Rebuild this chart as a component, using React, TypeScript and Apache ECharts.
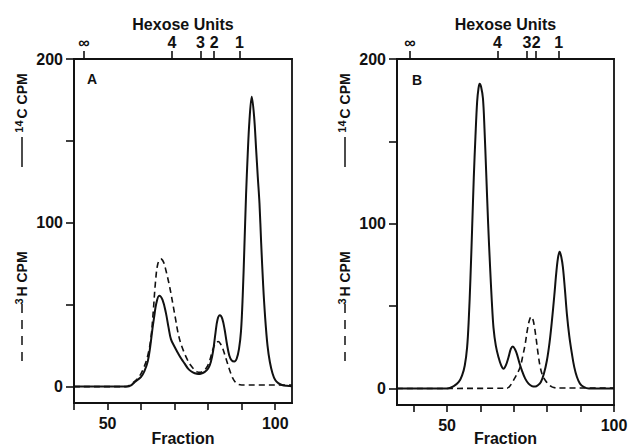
import React, { useEffect, useRef } from "react";
import * as echarts from "echarts";

// Panel A: fraction vs CPM
const aSolid14C: [number, number][] = [
  [40, 0], [56, 0], [57, 0.8], [58, 2.5], [59, 4.2], [60, 6], [61, 9.5], [62, 15.5], [62.7, 24], [63.4, 35.4],
  [64, 44], [64.5, 50.5], [65.4, 55.5], [66.4, 53], [67.4, 45], [68.2, 36], [68.9, 29], [69.9, 24.6],
  [71, 20.5], [72, 17], [73, 14], [74, 11], [75, 9.2], [76, 8.2], [77, 7.7], [78, 8], [79, 9],
  [80, 11], [80.8, 15], [81.5, 22], [82.2, 33], [82.8, 41], [83.5, 43.5], [84.2, 41.5], [84.9, 35],
  [85.6, 26], [86.3, 19], [87, 16], [87.8, 15.3], [88.5, 17], [89.2, 23], [89.8, 34], [90.3, 55],
  [90.8, 85], [91.3, 117], [91.8, 142], [92.3, 162], [93, 177], [93.7, 165], [94.3, 145], [94.8, 128],
  [95.3, 112], [95.8, 88], [96.4, 62], [97, 42], [97.7, 25], [98.4, 15], [99.2, 8], [100, 4],
  [101, 2], [102, 1], [103.5, 0.5], [105, 0.3],
];
const aDashed3H: [number, number][] = [
  [40, 0], [55.5, 0], [57, 1.5], [58, 3], [59, 5], [60, 8], [61, 12.5], [62, 19], [62.9, 29],
  [63.6, 45], [64.3, 64], [65, 75], [65.9, 78], [66.7, 76], [67.4, 71], [68.2, 64], [68.9, 57],
  [69.6, 49], [70.3, 41], [71, 33], [71.8, 26.6], [72.8, 21], [73.8, 16.5], [74.8, 13], [75.8, 10.5],
  [76.7, 9], [77.6, 8.7], [78.5, 9.5], [79.5, 11.5], [80.4, 15.5], [81.3, 22], [82.2, 26.5], [83, 27.5],
  [83.7, 26], [84.4, 23], [85.1, 18.5], [85.8, 14], [86.5, 9.5], [87.3, 5.3], [88, 3], [88.8, 1.5],
  [90, 1], [105, 1],
];

// Panel B
const bSolid14C: [number, number][] = [
  [35, 0], [50, 0], [52, 1.5], [53.5, 4], [54.5, 8], [55.3, 14], [56, 25], [56.5, 42], [57, 67],
  [57.5, 97], [58, 128], [58.5, 153], [59, 174], [59.4, 182], [59.75, 185], [60.2, 183], [60.75, 176],
  [61.2, 158], [61.7, 132], [62.3, 100], [62.9, 73], [63.4, 53], [63.9, 37], [64.6, 26], [65.4, 19],
  [66.2, 14], [66.9, 12], [67.6, 14], [68.4, 19], [69.1, 24], [69.7, 25.5], [70.3, 24], [70.9, 21],
  [71.6, 16], [72.4, 11], [73.4, 6], [74.4, 3], [75.4, 1.5], [76.4, 1.2], [77.2, 2], [78.1, 4],
  [79, 9], [79.9, 17], [80.7, 28], [81.4, 41], [82.1, 56], [82.7, 70], [83.2, 79], [83.7, 83],
  [84.2, 80], [84.7, 73.5], [85.3, 60], [85.9, 45], [86.6, 32], [87.4, 21], [88.1, 13], [88.9, 7],
  [89.8, 3], [90.9, 1], [92.5, 0], [100, 0],
];
const bDashed3H: [number, number][] = [
  [35, 0], [67.9, 0.2], [69, 2], [69.9, 5], [71, 9], [71.9, 13], [72.7, 20], [73.4, 27], [74, 35],
  [74.6, 41], [75.2, 43.6], [75.7, 42], [76.2, 37], [76.7, 30], [77.2, 22], [77.9, 13], [78.6, 8],
  [79.4, 5], [80.4, 2.5], [81.4, 1], [83, 0.3], [100, 0.3],
];

// Hexose unit markers (top axis), in fraction units
const hexoseLabels = ["∞", "4", "3", "2", "1"];
const hexosePosA = [43, 69.2, 77.7, 81.8, 89.3];
const hexosePosB = [38.9, 65.1, 73.9, 76.7, 83.4];

const fractionTicks = [40, 50, 60, 70, 80, 90, 100];
const fractionLabels = [50, 100];
const cpmTicks = [0, 50, 100, 150, 200];
const cpmLabels = [0, 100, 200];

const FONT = "'Liberation Sans', Arial, Helvetica, sans-serif";
const INK = "#111";

export default function App() {
  const ref = useRef<HTMLDivElement>(null);
  useEffect(() => {
    if (!ref.current) return;
    const chart = echarts.init(ref.current, undefined, { renderer: "svg" });

    const grids = [
      { left: 74, top: 59, width: 218, height: 344 },
      { left: 397, top: 59, width: 217, height: 346 },
    ];
    const ranges = [
      [40, 105],
      [35, 100],
    ];
    const fracGaps = [27, 25];
    const hexPos = [hexosePosA, hexosePosB];

    const textStyle = { color: INK, fontFamily: FONT, fontSize: 16, fontWeight: "bold" as const };

    const xAxes: any[] = [];
    grids.forEach((_, gi) => {
      xAxes.push({
        type: "value",
        gridIndex: gi,
        position: "bottom",
        min: ranges[gi][0],
        max: ranges[gi][1],
        name: "Fraction",
        nameLocation: "middle",
        nameGap: fracGaps[gi],
        nameMoveOverlap: false,
        nameTextStyle: { ...textStyle },
        axisLine: { show: true, onZero: false, lineStyle: { color: INK, width: 1.8 } },
        axisTick: { show: true, inside: false, length: 7, customValues: fractionTicks, lineStyle: { color: INK, width: 1.6 } },
        axisLabel: { ...textStyle, margin: 12, customValues: fractionLabels },
        splitLine: { show: false },
      });
      xAxes.push({
        type: "value",
        gridIndex: gi,
        position: "top",
        min: ranges[gi][0],
        max: ranges[gi][1],
        name: "Hexose Units",
        nameLocation: "middle",
        nameGap: 27,
        nameMoveOverlap: false,
        nameTextStyle: { ...textStyle },
        axisLine: { show: true, onZero: false, lineStyle: { color: INK, width: 1.8 } },
        axisTick: { show: true, inside: false, length: 8, customValues: hexPos[gi], lineStyle: { color: INK, width: 1.6 } },
        axisLabel: {
          ...textStyle,
          margin: 9,
          customValues: hexPos[gi],
          formatter: (v: number) => {
            const i = hexPos[gi].findIndex((p) => Math.abs(p - v) < 1e-6);
            return i >= 0 ? hexoseLabels[i] : "";
          },
        },
        splitLine: { show: false },
      });
    });

    const yAxes = grids.map((_, gi) => ({
      type: "value",
      gridIndex: gi,
      min: -10,
      max: 200,
      axisLine: { show: true, onZero: false, lineStyle: { color: INK, width: 1.8 } },
      axisTick: { show: true, inside: false, length: 8, customValues: cpmTicks, lineStyle: { color: INK, width: 1.6 } },
      axisLabel: { ...textStyle, margin: 11, customValues: cpmLabels },
      splitLine: { show: false },
    }));

    const mk = (data: [number, number][], xi: number, yi: number, dashed: boolean) => ({
      type: "line",
      data,
      xAxisIndex: xi,
      yAxisIndex: yi,
      showSymbol: false,
      symbol: "none",
      smooth: 0.35,
      lineStyle: dashed
        ? { color: INK, width: 1.6, type: [6, 4] }
        : { color: INK, width: 2 },
      z: dashed ? 2 : 3,
    });

    const rich = {
      sup: { fontSize: 11, fontWeight: "bold", fontFamily: FONT, fill: INK, verticalAlign: "top", lineHeight: 16, padding: [0, 2, 0, 0] },
      m: { fontSize: 14, fontWeight: "bold", fontFamily: FONT, fill: INK, verticalAlign: "bottom", lineHeight: 16 },
    };

    const yTitle = (cx: number) => [
      {
        type: "text",
        x: cx,
        y: 103,
        rotation: Math.PI / 2,
        style: { text: "{sup|14}{m|C CPM}", rich, textAlign: "center", textVerticalAlign: "middle" },
      },
      {
        type: "line",
        shape: { x1: cx + 1, y1: 137, x2: cx + 1, y2: 167 },
        style: { stroke: INK, lineWidth: 1.5 },
      },
      {
        type: "text",
        x: cx,
        y: 278,
        rotation: Math.PI / 2,
        style: { text: "{sup|3}{m|H CPM}", rich, textAlign: "center", textVerticalAlign: "middle" },
      },
      {
        type: "line",
        shape: { x1: cx + 1, y1: 304, x2: cx + 1, y2: 368 },
        style: { stroke: INK, lineWidth: 1.5, lineDash: [9, 7] },
      },
    ];

    chart.setOption({
      animation: false,
      backgroundColor: "#fff",
      grid: grids.map((g) => ({
        ...g,
        outerBoundsMode: "none",
        containLabel: false,
        show: true,
        borderColor: INK,
        borderWidth: 1.8,
        backgroundColor: "transparent",
      })),
      xAxis: xAxes,
      yAxis: yAxes,
      series: [
        mk(aDashed3H, 0, 0, true),
        mk(aSolid14C, 0, 0, false),
        mk(bDashed3H, 2, 1, true),
        mk(bSolid14C, 2, 1, false),
      ],
      graphic: [
        ...yTitle(21),
        ...yTitle(344),
        {
          type: "text",
          x: 92,
          y: 79,
          style: { text: "A", fill: INK, font: `bold 14px ${FONT}`, textAlign: "center", textVerticalAlign: "middle" },
        },
        {
          type: "text",
          x: 417,
          y: 80,
          style: { text: "B", fill: INK, font: `bold 14px ${FONT}`, textAlign: "center", textVerticalAlign: "middle" },
        },
      ],
    });
    return () => chart.dispose();
  }, []);
  return (
    <div
      ref={ref}
      style={{ position: "absolute", left: 0, top: 0, width: 631, height: 445, background: "#fff" }}
    />
  );
}
